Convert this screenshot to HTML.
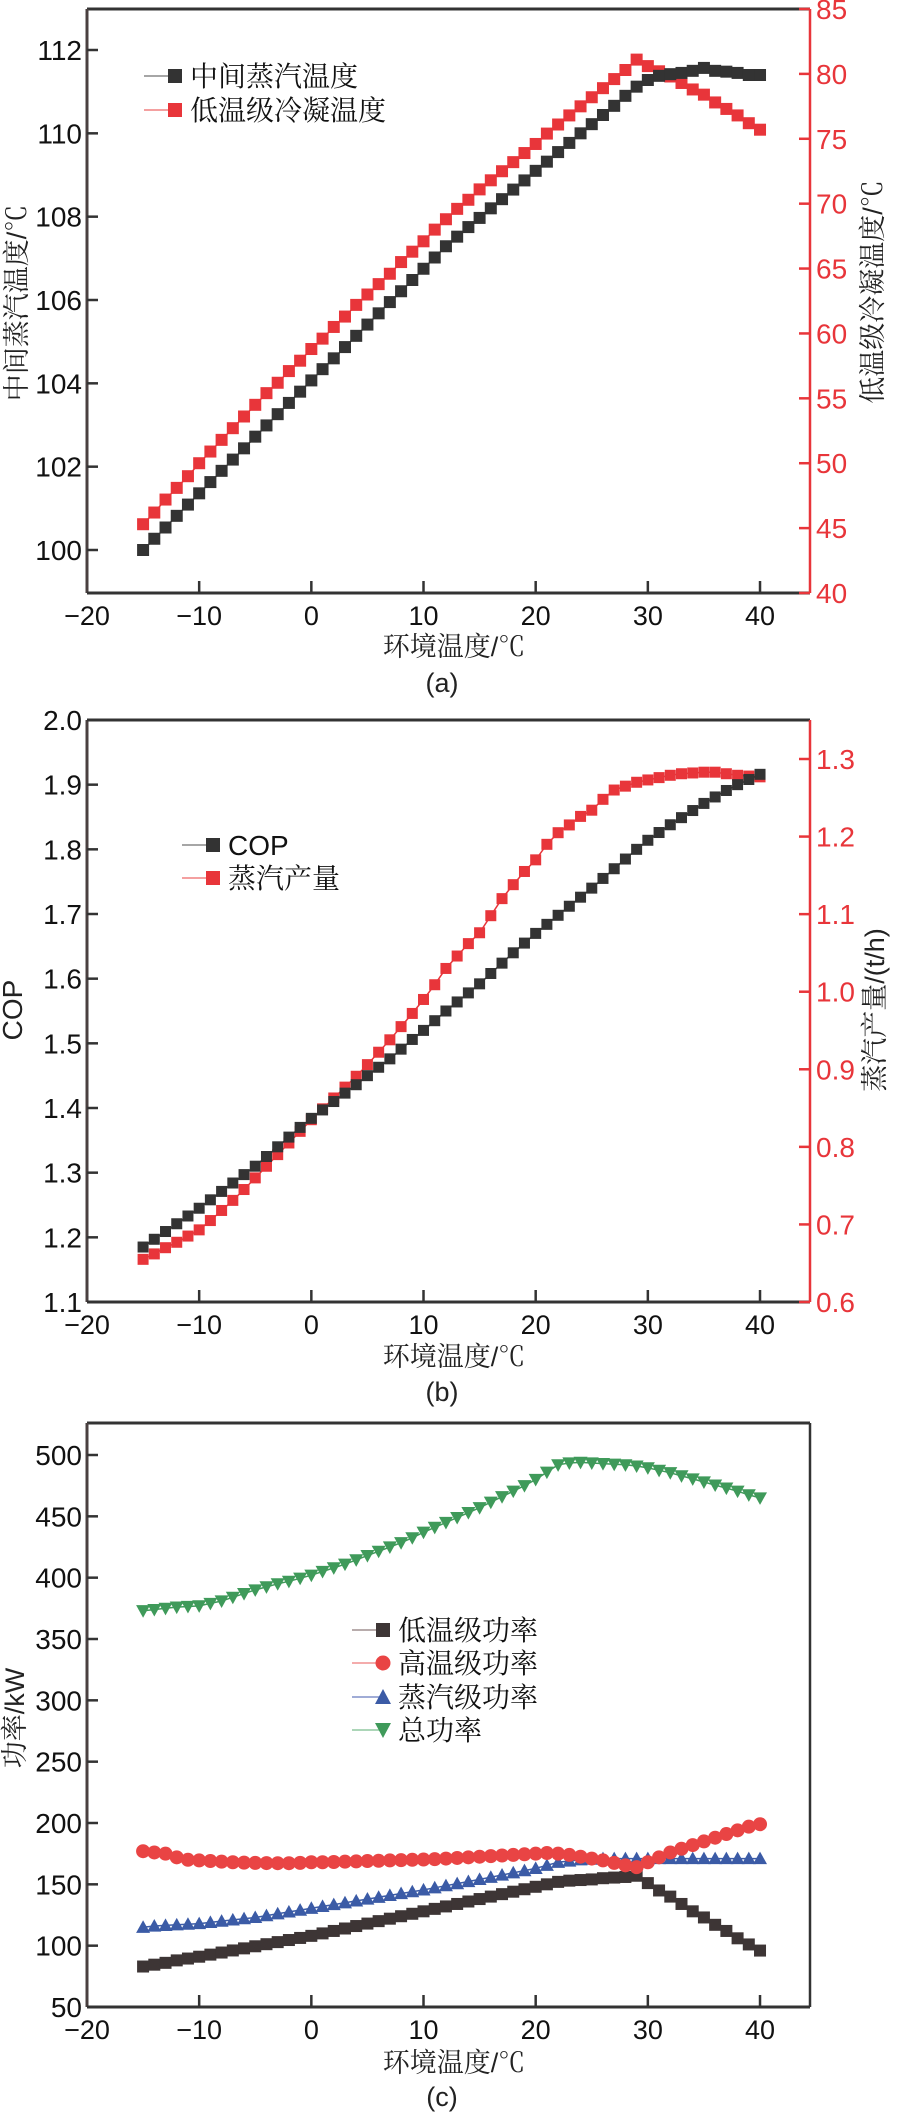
<!DOCTYPE html>
<html><head><meta charset="utf-8"><style>
html,body{margin:0;padding:0;background:#fff;}
svg{display:block;}
text{font-family:"Liberation Sans","Noto Sans CJK SC",sans-serif;}
.cjk{font-family:"Liberation Sans","Noto Serif CJK SC",serif;}
</style></head><body>
<svg id="chart" width="897" height="2112" viewBox="0 0 897 2112" xmlns="http://www.w3.org/2000/svg"></svg>
<script>
const temps = [-15,-14,-13,-12,-11,-10,-9,-8,-7,-6,-5,-4,-3,-2,-1,0,1,2,3,4,5,6,7,8,9,10,11,12,13,14,15,16,17,18,19,20,21,22,23,24,25,26,27,28,29,30,31,32,33,34,35,36,37,38,39,40];
const midSteamTemp = [100.0,100.27,100.54,100.82,101.09,101.36,101.63,101.9,102.17,102.44,102.72,102.99,103.26,103.53,103.8,104.07,104.34,104.6,104.87,105.14,105.41,105.68,105.95,106.21,106.48,106.75,107.02,107.29,107.52,107.75,107.97,108.2,108.42,108.65,108.87,109.1,109.32,109.55,109.77,110.0,110.22,110.44,110.66,110.9,111.12,111.28,111.38,111.42,111.45,111.5,111.57,111.5,111.48,111.45,111.4,111.4];
const lowCondTemp = [45.3,46.2,47.2,48.1,49.0,50.0,50.9,51.8,52.7,53.6,54.5,55.4,56.2,57.1,57.9,58.8,59.6,60.5,61.3,62.2,63.0,63.8,64.6,65.5,66.3,67.1,68.0,68.8,69.6,70.3,71.1,71.8,72.5,73.2,73.9,74.6,75.4,76.1,76.8,77.5,78.2,78.9,79.6,80.3,81.1,80.6,80.2,79.8,79.3,78.8,78.4,77.8,77.3,76.8,76.2,75.7];
const cop = [1.185,1.197,1.209,1.221,1.233,1.245,1.258,1.271,1.284,1.297,1.31,1.325,1.34,1.355,1.37,1.384,1.397,1.41,1.423,1.436,1.45,1.463,1.476,1.491,1.506,1.52,1.535,1.55,1.564,1.578,1.592,1.608,1.624,1.64,1.655,1.67,1.684,1.698,1.712,1.726,1.74,1.755,1.77,1.785,1.8,1.814,1.826,1.838,1.849,1.86,1.871,1.881,1.891,1.9,1.908,1.916];
const steamOutput = [0.655,0.662,0.670,0.677,0.685,0.693,0.705,0.718,0.731,0.745,0.76,0.775,0.79,0.805,0.82,0.835,0.849,0.863,0.877,0.891,0.906,0.922,0.938,0.955,0.972,0.99,1.009,1.03,1.046,1.062,1.076,1.098,1.12,1.138,1.155,1.17,1.19,1.205,1.215,1.226,1.234,1.248,1.26,1.265,1.27,1.273,1.276,1.279,1.281,1.282,1.283,1.283,1.281,1.279,1.278,1.277];
const lowStagePower = [83,84.5,86,88,89.5,91,92.7,94.4,96.1,97.8,99.5,101.2,102.9,104.6,106.3,108,110,112,114,116,118,120,122,124,126,128,130,132,134,136,138,140,142,144,146,148,150,152,153,153.5,154,155,155.5,156,157,151,145,140,134,128,123,117,112,106,101,96];
const highStagePower = [177,176,175,172,170,169.5,169,168.5,168,167.7,167.5,167.3,167.2,167.2,167.5,168,168,168.2,168.5,168.7,169,169.2,169.5,169.7,170,170.2,170.5,171,171.5,172,172.5,173,173.5,174,174.5,175,175.5,175,174,172.5,171,169.5,167.5,165.5,164,168,172,176,179,182,185,188,191,194,197,199];
const steamStagePower = [115,116,116.5,117,117.5,118,119,120,121,122,123,124.5,126,127.5,129,130.5,132,133.5,135,136.5,138,139.5,141,142.5,144,145.5,147.2,148.9,150.6,152.3,154,155.8,157.6,159.4,161.2,163,165.5,168,169,170,170.5,171,171,171,171,171,171,171,171,171,171,171,171,171,171,171];
const totalPower = [373,374,375,376,376.5,377,379,381,384,387,390,392.5,395,397,399.5,402,405,408,411,414.5,418,421.5,425,428.5,432.5,437,441,445,449,453,457,461.5,466,470.5,475,480,486,492,493.5,494,493.5,493,492.5,492,491,489.5,487.5,485.5,483,480.5,478,475.5,473,470.5,467.5,465];
const xTicks = [-20,-10,0,10,20,30,40];
const aLeftTicks = [100,102,104,106,108,110,112];
const aRightTicks = [40,45,50,55,60,65,70,75,80,85];
const bLeftTicks = ["1.1","1.2","1.3","1.4","1.5","1.6","1.7","1.8","1.9","2.0"];
const bRightTicks = ["0.6","0.7","0.8","0.9","1.0","1.1","1.2","1.3"];
const cTicks = [50,100,150,200,250,300,350,400,450,500];

const NS = "http://www.w3.org/2000/svg";
const svg = document.getElementById('chart');
function mk(tag, attrs, parent, txt){
  const e = document.createElementNS(NS, tag);
  for (const k in attrs) e.setAttribute(k, attrs[k]);
  if (txt !== undefined) e.textContent = txt;
  (parent || svg).appendChild(e);
  return e;
}
const L = 87, R = 810;
function xs(v){ return 87 + (v + 20) * 11.217; }
function lin(d0, p0, d1, p1){ return v => p0 + (v - d0) * (p1 - p0) / (d1 - d0); }

const RED = "#e8353a", BLK = "#333", BLUE = "#3b5ba6", GRN = "#3f9a5a";

function frame(top, bottom, rightColor, name){
  const g = mk('g', {});
  
  
  mk('line', {x1:L, y1:top, x2:R, y2:top, stroke:BLK, 'stroke-width':3}, g);
  mk('line', {x1:L, y1:top, x2:L, y2:bottom, stroke:"#4a4040", 'stroke-width':3}, g);
  mk('line', {x1:L, y1:bottom, x2:R, y2:bottom, stroke:BLK, 'stroke-width':3}, g);
  mk('line', {x1:R, y1:top, x2:R, y2:bottom, stroke:rightColor, 'stroke-width':2.5}, g);
  xTicks.forEach(t => {
    const x = xs(t);
    if (t > -20) mk('line', {x1:x, y1:bottom, x2:x, y2:bottom-12, stroke:BLK, 'stroke-width':2.5}, g);
    const lab = mk('text', {x:x, y:bottom+32, 'font-size':27, 'text-anchor':'middle', fill:'#111'}, g, t < 0 ? '\u2212' + (-t) : String(t));
    
    
  });
}
function leftTicks(ticks, scale, name){
  ticks.forEach(t => {
    const y = scale(parseFloat(t));
    mk('line', {x1:L, y1:y, x2:L+11, y2:y, stroke:BLK, 'stroke-width':2.5});
    const lab = mk('text', {x:82, y:y+10, 'font-size':28, 'text-anchor':'end', fill:'#111'}, svg, String(t));
    
    
  });
}
function rightTicks(ticks, scale, name){
  ticks.forEach(t => {
    const y = scale(parseFloat(t));
    mk('line', {x1:R, y1:y, x2:R-11, y2:y, stroke:RED, 'stroke-width':2.5});
    const lab = mk('text', {x:816, y:y+10, 'font-size':28, 'text-anchor':'start', fill:RED}, svg, String(t));
    
    
  });
}
function title(txt, x, y, rot, name, color, size){
  const e = mk('text', {x:x, y:y, 'font-size':size||27, 'text-anchor':'middle', fill:color||'#222', class:'cjk',
    transform: rot ? `rotate(${rot} ${x} ${y})` : ''}, svg, txt);
  
  
}
function series(vals, ys, color, shape, size, name){
  const g = mk('g', {});
  
  
  const pts = temps.map((t,i) => xs(t).toFixed(1) + ',' + ys(vals[i]).toFixed(1)).join(' ');
  mk('polyline', {points:pts, fill:'none', stroke:color, 'stroke-width':1.5}, g);
  temps.forEach((t,i) => {
    const x = xs(t), y = ys(vals[i]), h = size/2;
    let m;
    if (shape === 'sq') m = mk('rect', {x:x-h, y:y-h, width:size, height:size, fill:color}, g);
    else if (shape === 'ci') m = mk('circle', {cx:x, cy:y, r:h, fill:color}, g);
    else if (shape === 'tu') m = mk('polygon', {points:`${x},${y-h} ${x+h},${y+h*0.8} ${x-h},${y+h*0.8}`, fill:color}, g);
    else m = mk('polygon', {points:`${x-h},${y-h*0.8} ${x+h},${y-h*0.8} ${x},${y+h}`, fill:color}, g);
    
    
  });
}
function legendItem(x, y, color, shape, label, name, lineColor){
  const g = mk('g', {});
  
  
  mk('line', {x1:x, y1:y, x2:x+28, y2:y, stroke:lineColor, 'stroke-width':1.5}, g);
  const mx = x+31, h = 7;
  if (shape === 'sq') mk('rect', {x:mx-h, y:y-h, width:14, height:14, fill:color}, g);
  else if (shape === 'ci') mk('circle', {cx:mx, cy:y, r:7.5, fill:color}, g);
  else if (shape === 'tu') mk('polygon', {points:`${mx},${y-8} ${mx+8},${y+7} ${mx-8},${y+7}`, fill:color}, g);
  else mk('polygon', {points:`${mx-8},${y-7} ${mx+8},${y-7} ${mx},${y+8}`, fill:color}, g);
  mk('text', {x:x+46, y:y+10, 'font-size':28, fill:'#111', class:'cjk'}, g, label);
}

/* Panel (a) */
const ayL = lin(100, 550, 112, 50);
const ayR = lin(40, 593, 85, 9);
frame(9, 593, RED, 'panel-a');
leftTicks(aLeftTicks, ayL, 'a-left-y');
rightTicks(aRightTicks, ayR, 'a-right-y');
series(lowCondTemp, ayR, RED, 'sq', 12, 'series-low-cond-temp');
series(midSteamTemp, ayL, BLK, 'sq', 12, 'series-mid-steam-temp');
legendItem(144, 76, BLK, 'sq', '中间蒸汽温度', 'legend-mid-steam-temp', '#888');
legendItem(144, 110, RED, 'sq', '低温级冷凝温度', 'legend-low-cond-temp', '#f08080');
title('中间蒸汽温度/℃', 26, 303, -90, 'a-left-y-title');
title('低温级冷凝温度/℃', 882, 292, -90, 'a-right-y-title');
title('环境温度/℃', 454, 656, 0, 'a-x-title');
title('(a)', 442, 692, 0, 'a-caption');

/* Panel (b) */
const byL = lin(1.1, 1302, 2.0, 720);
const byR = lin(0.6, 1302, 1.3, 759);
frame(720, 1302, RED, 'panel-b');
leftTicks(bLeftTicks, byL, 'b-left-y');
rightTicks(bRightTicks, byR, 'b-right-y');
series(steamOutput, byR, RED, 'sq', 11, 'series-steam-output');
series(cop, byL, BLK, 'sq', 11, 'series-cop');
legendItem(182, 845, BLK, 'sq', 'COP', 'legend-cop', '#888');
legendItem(182, 878, RED, 'sq', '蒸汽产量', 'legend-steam-output', '#f08080');
title('COP', 22, 1010, -90, 'b-left-y-title', '#222', 28);
title('蒸汽产量/(t/h)', 884, 1010, -90, 'b-right-y-title');
title('环境温度/℃', 454, 1366, 0, 'b-x-title');
title('(b)', 442, 1401, 0, 'b-caption');

/* Panel (c) */
const cy = lin(50, 2007, 500, 1455);
frame(1423, 2007, BLK, 'panel-c');
leftTicks(cTicks, cy, 'c-y');
series(lowStagePower, cy, "#3d3535", 'sq', 12, 'series-low-stage-power');
series(steamStagePower, cy, BLUE, 'tu', 14, 'series-steam-stage-power');
series(highStagePower, cy, "#e94444", 'ci', 14, 'series-high-stage-power');
series(totalPower, cy, GRN, 'td', 14, 'series-total-power');
legendItem(352, 1630, "#3d3535", 'sq', '低温级功率', 'legend-low-stage-power', '#a09090');
legendItem(352, 1663, "#e94444", 'ci', '高温级功率', 'legend-high-stage-power', '#f09090');
legendItem(352, 1697, BLUE, 'tu', '蒸汽级功率', 'legend-steam-stage-power', '#8090c8');
legendItem(352, 1730, GRN, 'td', '总功率', 'legend-total-power', '#90c8a0');
title('功率/kW', 24, 1718, -90, 'c-y-title');
title('环境温度/℃', 454, 2072, 0, 'c-x-title');
title('(c)', 442, 2106, 0, 'c-caption');
</script>
</body></html>
